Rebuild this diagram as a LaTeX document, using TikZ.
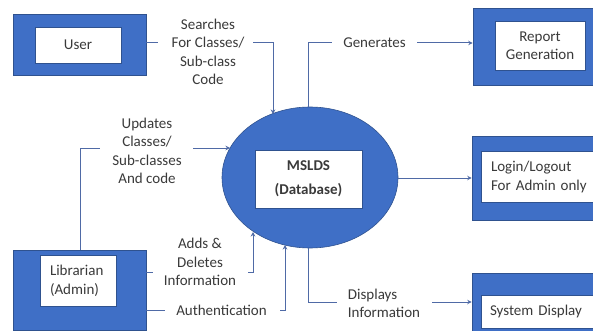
\documentclass[tikz,border=0pt]{standalone}
\usepackage{fontspec}
\setmainfont{Carlito}
\usetikzlibrary{shapes.geometric,arrows.meta}
\definecolor{boxblue}{HTML}{3F6FC6}
\definecolor{edgeblue}{HTML}{2F528F}
\definecolor{linecol}{HTML}{4F6AA6}
\definecolor{txt}{HTML}{3A3A3A}
\tikzset{
  outerbox/.style={draw=edgeblue,line width=0.6pt,fill=boxblue,minimum width=#1},
  innerbox/.style={draw=edgeblue,line width=0.6pt,fill=white,text=txt,font=\fontsize{15}{18.5}\selectfont},
  lbl/.style={text=txt,font=\fontsize{15}{18.5}\selectfont,align=center,inner sep=0pt},
  conn/.style={draw=linecol,line width=1pt},
  arr/.style={conn,-{Stealth[length=4.5pt,width=4.5pt]}},
}
\begin{document}
\begin{tikzpicture}[x=1pt,y=-1pt]
\useasboundingbox (0,0) rectangle (593,331);
\fill[white] (0,0) rectangle (593,331);
\clip (0,0) rectangle (593,331);

% boxes
\node[outerbox=133pt,minimum height=61pt] (uout) at (79.5,44.5) {};
\node[innerbox,minimum width=86pt,minimum height=36pt] (user) at (78,45) {User};

\node[outerbox=133pt,minimum height=80pt] (lout) at (79.5,290) {};
\node[innerbox,minimum width=76pt,minimum height=48pt,text width=56pt,align=left,inner sep=10pt] (lib) at (78,281) {Librarian\\(Admin)};

\node[outerbox=124pt,minimum height=77pt] (rout) at (535,46.5) {};
\node[innerbox,minimum width=90pt,minimum height=49pt,align=center] (rep) at (540,45.5) {Report\\Generation};

\node[outerbox=150pt,minimum height=84pt] (gout) at (547,178) {};
\node[innerbox,minimum width=125pt,minimum height=50pt,text width=105pt,align=left,inner sep=10pt] (log) at (543.5,177) {Login/Logout\\For Admin only};

\node[outerbox=150pt,minimum height=80pt] (sout) at (547,313) {};
\node[innerbox,minimum width=125pt,minimum height=33pt,text width=107pt,align=left,inner sep=9pt] (sys) at (543.5,311.5) {System Display};

% database
\node[ellipse,draw=edgeblue,line width=0.6pt,fill=boxblue,minimum width=176pt,minimum height=141pt,inner sep=0pt] (db) at (310,177.5) {};
\node[innerbox,minimum width=107pt,minimum height=58pt,align=center,font=\fontsize{15}{24}\selectfont\bfseries] (dbt) at (308.5,179) {MSLDS\\(Database)};

% labels
\node[lbl] (searches) at (208,52) {Searches\\For Classes/\\Sub-class\\Code};
\node[lbl] (updates) at (147,151) {Updates\\Classes/\\Sub-classes\\And code};
\node[lbl] (adds) at (200,262) {Adds \&\\Deletes\\Information};
\node[lbl] (auth) at (221.5,310) {Authentication};
\node[lbl] (gen) at (374.5,43) {Generates};
\node[lbl,align=left] (disp) at (384,303.5) {Displays\\Information};

% connector coordinates
\coordinate (s1) at (158,43);
\coordinate (s2) at (253,43);
\coordinate (s3) at (273,43);
\coordinate (s4) at (273,114);
\coordinate (u1) at (80,148);
\coordinate (u2) at (100,148);
\coordinate (u3) at (193,148);
\coordinate (u4) at (230,148);
\coordinate (a1) at (153,272);
\coordinate (a2) at (248,272);
\coordinate (a3) at (253,272);
\coordinate (a4) at (253,232);
\coordinate (t1) at (165,310);
\coordinate (t2) at (280,310);
\coordinate (t3) at (285,310);
\coordinate (t4) at (285,245);
\coordinate (g0) at (308,107);
\coordinate (g1) at (308,43);
\coordinate (g2) at (332,43);
\coordinate (g3) at (417,43);
\coordinate (l0) at (398,178);
\coordinate (d0) at (308,248);
\coordinate (d1) at (308,302);
\coordinate (d2) at (337,302);
\coordinate (d3) at (432,302);

% connectors
\draw[conn] (uout.east |- s1) -- (s1);
\draw[arr] (s2) -- (s3) -- (s4);
\draw[conn] (lout.north -| u1) -- (u1) -- (u2);
\draw[arr] (u3) -- (u4);
\draw[conn] (lout.east |- a1) -- (a1);
\draw[arr] (a2) -- (a3) -- (a4);
\draw[conn] (lout.east |- t1) -- (t1);
\draw[arr] (t2) -- (t3) -- (t4);
\draw[conn] (g0) -- (g1) -- (g2);
\draw[arr] (g3) -- (rout.west |- g3);
\draw[arr] (l0) -- (gout.west |- l0);
\draw[conn] (d0) -- (d1) -- (d2);
\draw[arr] (d3) -- (sout.west |- d3);
\end{tikzpicture}
\end{document}
